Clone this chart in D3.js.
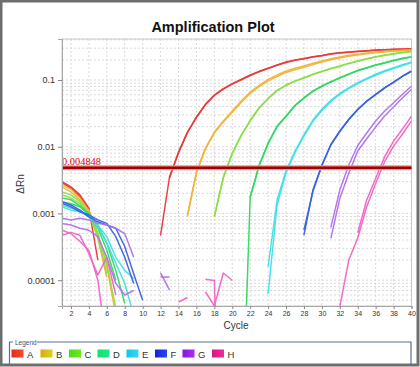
<!DOCTYPE html>
<html><head><meta charset="utf-8">
<script src="https://cdn.jsdelivr.net/npm/d3@7"></script>
<style>body{margin:0;background:#fff;} svg{display:block;font-family:"Liberation Sans",Arial,sans-serif;}</style>
</head><body>
<svg id="c" width="420" height="367"></svg>
<script>
// ---------- data ----------
const cycles = d3.range(1, 41);
const xTicks = [2,4,6,8,10,12,14,16,18,20,22,24,26,28,30,32,34,36,38,40];
const yTicks = [0.0001, 0.001, 0.01, 0.1];
const yTickLabels = ["0.0001", "0.001", "0.01", "0.1"];
const samples = ["A","B","C","D","E","F","G","H"];
const lineColors = ["#e63a38","#f0b43a","#8ade46","#30d862","#40dfe8","#3a62dc","#b070ee","#f064c6"];
const swatchFrom = ["#e42a1c","#e0a414","#48de14","#12e06c","#12c4ec","#1424dc","#8c14dc","#dc1484"];
const swatchTo   = ["#f24c2a","#d8d424","#68e824","#22e88a","#38d8f2","#2a46f0","#ae2cf2","#f02c98"];
const threshold = 0.004848;
const thresholdLabel = "0.004848";

const N = null;
const A1 = [0.0030,0.0025,0.0019,0.0012,0.0002, N,N,N,N,N,N,
  0.00047,0.00355,0.0083,0.0166,0.0279,0.0432,0.0596,0.0741,0.0881,0.102,0.119,0.135,0.151,0.168,0.186,0.1995,0.211,0.2235,0.234,0.248,0.257,0.263,0.269,0.275,0.282,0.285,0.288,0.292,0.295];
const A2 = [0.0029,0.0024,0.0018,0.00115, N,N,N,N,N,N,N,N,
  0.0034,0.0081,0.0163,0.0274,0.0425,0.0588,0.0731,0.087,0.101,0.117,0.133,0.149,0.166,0.183,0.197,0.209,0.221,0.232,0.245,0.254,0.261,0.267,0.273,0.279,0.283,0.287,0.290,0.293];
const B1 = [0.0027,0.0023,0.0017,0.0011,0.00042,0.00011, N,N,N,N,N,N,N,N,
  0.00095,0.00422,0.00957,0.0166,0.0243,0.0343,0.0484,0.0661,0.0833,0.102,0.119,0.1365,0.1497,0.162,0.178,0.193,0.2086,0.221,0.2344,0.2453,0.254,0.263,0.269,0.275,0.2786,0.282];
const B2 = [0.0025,0.0021,0.0016,0.0011,0.0005,0.00016,0.00003, N,N,N,N,N,N,N,
  0.0009,0.0040,0.0092,0.0160,0.0234,0.0328,0.0462,0.0630,0.0795,0.0970,0.113,0.130,0.143,0.155,0.171,0.186,0.201,0.214,0.227,0.238,0.248,0.257,0.264,0.270,0.275,0.279];
const C1 = [0.0021,0.0019,0.0015,0.0010,0.0005,0.00018,0.000038, N,N,N,N,N,N,N,N,N,N,
  0.000914,0.00352,0.00805,0.01496,0.0249,0.0385,0.0532,0.0702,0.0841,0.0966,0.1083,0.1218,0.135,0.1496,0.162,0.178,0.193,0.2086,0.2235,0.237,0.2477,0.260,0.269];
const C2 = [0.0019,0.0017,0.0014,0.00095,0.00045,0.000125, N,N,N,N,N,N,N,N,N,N,N,
  0.00088,0.0034,0.0079,0.0147,0.0245,0.0380,0.0525,0.0693,0.0831,0.0955,0.107,0.1205,0.1335,0.148,0.160,0.176,0.191,0.206,0.221,0.234,0.245,0.257,0.266];
const D1 = [0.0017,0.0016,0.0013,0.0010,0.00067,0.00036,0.00014,0.000045, N,N,N,N,N,N,N,N,N,N,N,N,
  2.2e-7,0.00178,0.00532,0.01135,0.0204,0.0288,0.0418,0.0543,0.0684,0.0813,0.0944,0.1083,0.123,0.1397,0.1529,0.168,0.1817,0.1974,0.2114,0.2235];
const D2 = [0.0015,0.0014,0.00126,0.00095,0.0006,0.00028,0.0001, N,N,N,N,N,N,N,N,N,N,N,N,N,N,
  0.00172,0.0052,0.0111,0.0200,0.0283,0.0411,0.0535,0.0675,0.0803,0.0933,0.107,0.1215,0.138,0.151,0.166,0.1795,0.195,0.209,0.221];
const E1 = [0.00134,0.0012,0.00112,0.00089,0.00067,0.00045,0.00022,0.00014,0.000106, N,N,N,N,N,N,N,N,N,N,N,N,N,N,
  0.000159,0.00159,0.00436,0.00863,0.0152,0.0251,0.0364,0.0497,0.0632,0.0767,0.0912,0.106,0.1218,0.1378,0.1529,0.1696,0.1862];
const E2 = [0.00126,0.00112,0.00106,0.00089,0.00063,0.00036,0.00018,0.000089,0.00003, N,N,N,N,N,N,N,N,N,N,N,N,N,N,
  0.000062,0.00134,0.0041,0.0082,0.0145,0.0240,0.0350,0.0478,0.0610,0.0742,0.0885,0.103,0.118,0.134,0.149,0.165,0.181];
const F1 = [0.0015,0.00134,0.00112,0.00089,0.00075,0.00067,0.0006,0.00032,0.000125,0.00005, N,N,N,N,N,N,N,N,N,N,N,N,N,N,N,N,N,
  0.000474,0.00224,0.00532,0.0108,0.0172,0.0258,0.0364,0.0484,0.0611,0.0767,0.0933,0.1148,0.1365];
const F2 = [0.00142,0.00126,0.00106,0.00095,0.0008,0.00071,0.00045,0.00022,0.000089, N,N,N,N,N,N,N,N,N,N,N,N,N,N,N,N,N,N,
  0.000563,0.00215,0.0052,0.0106,0.0169,0.0254,0.0359,0.0478,0.0604,0.0758,0.0922,0.1135,0.135];
const G1 = [0.00085,0.0008,0.00085,0.0008,0.00071,0.00067,0.0006,0.0005,0.00022, N,N,
  0.000129,0.000071, N,N,N,N,N,N,N,N,N,N,N,N,N,N,N,N,N,
  0.00062,0.00224,0.00532,0.01042,0.01604,0.0243,0.0343,0.0457,0.0611,0.0813];
const G2 = [0.00071,0.00067,0.0006,0.00056,0.00045,0.00022,0.00009,0.00006,0.00007, N,N,
  0.000112,0.000112, N,N,N,N,N,N,N,N,N,N,N,N,N,N,N,N,N,
  0.000424,0.00168,0.00399,0.00863,0.0132,0.0197,0.0288,0.0394,0.0543,0.0726];
const H1 = [0.00056,0.0005,0.00038,0.00028,0.0001,0.00001, N,N,N,N,N,N,N,
  0.000047,0.000055, N, 0.000103,0.000099,1e-9, N,N,N,N,N,N,N,N,N,N,N,N,
  0.00004,0.0002,0.000428,0.00126,0.00282,0.00596,0.01023,0.0155,0.0243];
const H2 = [0.00047,0.00052,0.00047,0.00025,0.00012,0.00022,0.00006, N,N,N,N,N,N,N,N,N,
  0.000067,0.000041,0.000128,0.000099, N,N,N,N,N,N,N,N,N,N,N,N,N,
  0.000514,0.00159,0.00336,0.00708,0.01216,0.0184,0.0288];

const series = [
  {s:0,v:A1},{s:0,v:A2},{s:1,v:B1},{s:1,v:B2},{s:2,v:C1},{s:2,v:C2},{s:3,v:D1},{s:3,v:D2},
  {s:4,v:E1},{s:4,v:E2},{s:5,v:F1},{s:5,v:F2},{s:6,v:G1},{s:6,v:G2},{s:7,v:H1},{s:7,v:H2}
];

// ---------- drawing ----------
const svg = d3.select("#c");
const L = 62, R = 411.5, T = 39, B = 306;
const x = d3.scaleLinear().domain([1, 40]).range([L, R]);
const y = d3.scaleLog().domain([4.1e-5, 0.412]).range([B, T]);

// outer frame
svg.append("rect").attr("x",1).attr("y",1).attr("width",417).attr("height",364)
  .attr("fill","none").attr("stroke","#6e6e6e").attr("stroke-width",3);

// title
svg.append("text").attr("x",213).attr("y",32).attr("text-anchor","middle")
  .attr("font-size",14.5).attr("font-weight","bold").attr("fill","#111").text("Amplification Plot");

// grid
const grid = svg.append("g");
const minor = [];
for (let e=-5;e<=-1;e++) for (let k=1;k<=9;k++){ const v=k*Math.pow(10,e); if(v>=4.1e-5 && v<=0.412) minor.push(v); }
grid.selectAll("line.h").data(minor).enter().append("line")
  .attr("x1",L).attr("x2",R).attr("y1",d=>y(d)).attr("y2",d=>y(d))
  .attr("stroke","#d9d9d9").attr("stroke-width",1).attr("stroke-dasharray","2,2");
grid.selectAll("line.v").data(xTicks.filter(d=>d<40)).enter().append("line")
  .attr("x1",d=>x(d)).attr("x2",d=>x(d)).attr("y1",T).attr("y2",B)
  .attr("stroke","#d9d9d9").attr("stroke-width",1).attr("stroke-dasharray","2,2");

// plot frame
svg.append("rect").attr("x",L).attr("y",T).attr("width",R-L).attr("height",B-T)
  .attr("fill","none").attr("stroke","#c8c8c8");

// clip
svg.append("clipPath").attr("id","pc").append("rect").attr("x",L).attr("y",T).attr("width",R-L).attr("height",B-T);

// curves
const line = d3.line().defined(d => d[1] != null && d[1] > 0)
  .x(d => x(d[0])).y(d => y(d[1]));
svg.append("g").attr("clip-path","url(#pc)").selectAll("path").data(series).enter().append("path")
  .attr("d", d => line(cycles.map((c,i)=>[c, d.v[i]])))
  .attr("fill","none").attr("stroke", d => lineColors[d.s]).attr("stroke-width",1.5)
  .attr("stroke-linejoin","round").attr("opacity",0.95);

// threshold
svg.append("line").attr("x1",L).attr("x2",R).attr("y1",y(threshold)).attr("y2",y(threshold))
  .attr("stroke","#e89090").attr("stroke-width",5);
svg.append("line").attr("x1",L).attr("x2",R).attr("y1",y(threshold)).attr("y2",y(threshold))
  .attr("stroke","#a00000").attr("stroke-width",2.5);
svg.append("text").attr("x",L).attr("y",y(threshold)-2.5).attr("font-family","'Liberation Serif',serif")
  .attr("font-size",11).attr("fill","#e00000").attr("textLength",39).attr("lengthAdjust","spacingAndGlyphs")
  .text(thresholdLabel);

// axes
const yAxis = svg.append("g").attr("transform",`translate(${L},0)`)
  .call(d3.axisLeft(y).tickValues(yTicks).tickFormat((d,i)=>yTickLabels[i]).tickSize(4).tickPadding(3));
yAxis.select(".domain").attr("stroke","#a8a8a8");
yAxis.selectAll(".tick line").attr("stroke","#888");
yAxis.selectAll("text").attr("font-size",9).attr("fill","#333").attr("font-family","'Liberation Sans',Arial,sans-serif");

const xAxis = svg.append("g").attr("transform",`translate(0,${B})`)
  .call(d3.axisBottom(x).tickValues(xTicks).tickSize(3).tickPadding(2));
xAxis.select(".domain").attr("stroke","#a8a8a8");
xAxis.selectAll(".tick line").attr("stroke","#888");
xAxis.selectAll("text").attr("font-size",7).attr("fill","#333").attr("font-family","'Liberation Sans',Arial,sans-serif");

svg.append("text").attr("x",236).attr("y",329).attr("text-anchor","middle").attr("font-size",10).attr("fill","#333").text("Cycle");
svg.append("text").attr("transform","translate(24,184) rotate(-90)").attr("text-anchor","middle")
  .attr("font-size",10).attr("fill","#333").text("ΔRn");

// legend
const defs = svg.append("defs");
samples.forEach((s,i)=>{
  const g = defs.append("linearGradient").attr("id","g"+i).attr("x1","0").attr("x2","1").attr("y1","0").attr("y2","0");
  g.append("stop").attr("offset","0").attr("stop-color",swatchFrom[i]);
  g.append("stop").attr("offset","1").attr("stop-color",swatchTo[i]);
});
const lg = svg.append("g");
lg.append("path").attr("d","M13,342 H9.5 V365 M37,342 H411 V365").attr("fill","none").attr("stroke","#5a6e8c").attr("stroke-width",1.2);
lg.append("text").attr("x",15).attr("y",344.5).attr("font-size",6.5).attr("fill","#3c5078").text("Legend");
const lx = [11.5, 40.5, 69, 97.5, 126.5, 155, 182.5, 212];
samples.forEach((s,i)=>{
  lg.append("rect").attr("x",lx[i]).attr("y",349.5).attr("width",12).attr("height",8).attr("fill","url(#g"+i+")");
  lg.append("text").attr("x",lx[i]+15.5).attr("y",357.5).attr("font-size",9.5).attr("fill","#333").text(s);
});
</script>
</body></html>
